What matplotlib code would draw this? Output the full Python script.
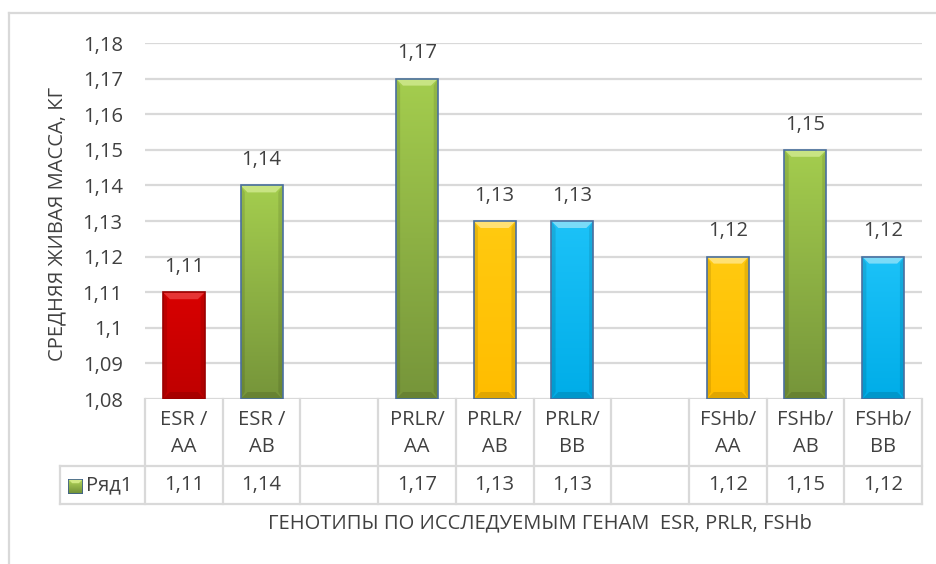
import numpy as np
import matplotlib
matplotlib.use("Agg")
import matplotlib.pyplot as plt
from matplotlib.patches import Rectangle, Polygon
from matplotlib.lines import Line2D
from matplotlib.colors import to_rgb
import matplotlib.transforms as mtransforms

plt.rcParams['font.family'] = ['Open Sans', 'DejaVu Sans']

# ---- data ----
categories = ["ESR /\nAA", "ESR /\nAB", "", "PRLR/\nAA", "PRLR/\nAB", "PRLR/\nBB",
              "", "FSHb/\nAA", "FSHb/\nAB", "FSHb/\nBB"]
values = [1.11, 1.14, None, 1.17, 1.13, 1.13, None, 1.12, 1.15, 1.12]
bar_kind = ["red", "green", None, "green", "yellow", "cyan", None, "yellow", "green", "cyan"]
series_name = "Ряд1"
y_ticks = [1.08, 1.09, 1.10, 1.11, 1.12, 1.13, 1.14, 1.15, 1.16, 1.17, 1.18]
y_title = "СРЕДНЯЯ ЖИВАЯ МАССА, КГ"
x_title = "ГЕНОТИПЫ ПО ИССЛЕДУЕМЫМ ГЕНАМ  ESR, PRLR, FSHb"

# fill styles: (top colour, bottom colour, bevel highlight, edge)
styles = {
    "red":    ("#d80000", "#bf0000", "#e83a3a", "#9a0000"),
    "green":  ("#a4cd4e", "#76953a", "#cde78a", "#4a6f9f"),
    "yellow": ("#ffca10", "#ffbd00", "#ffe480", "#4a6f9f"),
    "cyan":   ("#1cc2f8", "#00ade8", "#86def9", "#4a6f9f"),
}

TEXT = "#404040"
GRID = "#d9d9d9"
FS = 14.5

W, H = 936, 564
fig = plt.figure(figsize=(W / 100, H / 100), dpi=100)
fig.patch.set_facecolor("white")

ax_l, ax_r, ax_t, ax_b = 145, 922, 43, 399
ax = fig.add_axes([ax_l / W, 1 - ax_b / H, (ax_r - ax_l) / W, (ax_b - ax_t) / H])
ax.set_xlim(0, len(categories))
ax.set_ylim(y_ticks[0], y_ticks[-1])
ax.set_yticks(y_ticks)
ax.set_yticklabels([("%g" % round(t, 2)).replace(".", ",") for t in y_ticks],
                   fontsize=FS, color=TEXT)
ax.tick_params(axis="y", length=0, pad=16)
ax.set_xticks([])
for s in ax.spines.values():
    s.set_visible(False)
ax.grid(axis="y", color=GRID, linewidth=1.6, zorder=0)
ax.set_axisbelow(True)

# pixel scale of data units
px_x = (ax_r - ax_l) / len(categories)
px_y = (ax_b - ax_t) / (y_ticks[-1] - y_ticks[0])


def bevel_bar(axis, x0, y0, w, h, style, bev_px=7.0, zorder=3):
    top_c, bot_c, hi_c, edge_c = styles[style]
    # vertical gradient body
    grad = np.linspace(0, 1, 64)[:, None]
    c0, c1 = np.array(to_rgb(top_c)), np.array(to_rgb(bot_c))
    img = (c0[None, None, :] * (1 - grad[..., None]) + c1[None, None, :] * grad[..., None])
    im = axis.imshow(img, extent=(x0, x0 + w, y0, y0 + h), origin="upper",
                     aspect="auto", zorder=zorder, interpolation="bilinear")
    rect = Rectangle((x0, y0), w, h, facecolor="none", edgecolor="none")
    axis.add_patch(rect)
    im.set_clip_path(rect)
    bx = bev_px / px_x
    by = bev_px / px_y
    top = y0 + h
    # top bevel highlight
    axis.add_patch(Polygon([(x0, top), (x0 + w, top), (x0 + w - bx, top - by), (x0 + bx, top - by)],
                           closed=True, facecolor=hi_c, edgecolor="none", alpha=0.9, zorder=zorder + 0.1))
    # side shading
    axis.add_patch(Polygon([(x0, top), (x0 + bx * 0.6, top - by), (x0 + bx * 0.6, y0 + by), (x0, y0)],
                           closed=True, facecolor="black", edgecolor="none", alpha=0.10, zorder=zorder + 0.1))
    axis.add_patch(Polygon([(x0 + w, top), (x0 + w - bx * 0.6, top - by), (x0 + w - bx * 0.6, y0 + by), (x0 + w, y0)],
                           closed=True, facecolor="black", edgecolor="none", alpha=0.10, zorder=zorder + 0.1))
    # bottom bevel shadow
    axis.add_patch(Polygon([(x0, y0), (x0 + w, y0), (x0 + w - bx, y0 + by), (x0 + bx, y0 + by)],
                           closed=True, facecolor="black", edgecolor="none", alpha=0.12, zorder=zorder + 0.1))
    axis.add_patch(Rectangle((x0, y0), w, h, facecolor="none", edgecolor=edge_c,
                             linewidth=1.2, zorder=zorder + 0.2))


bar_w = 0.54
base = y_ticks[0]
for i, (v, kind) in enumerate(zip(values, bar_kind)):
    if v is None:
        continue
    xc = i + 0.5
    bevel_bar(ax, xc - bar_w / 2, base, bar_w, v - base, kind)
    ax.annotate(f"{v:.2f}".replace(".", ","), (xc, v), xytext=(0, 11),
                textcoords="offset points", ha="center", va="bottom",
                fontsize=FS, color=TEXT, zorder=5)

# ---- data table below the plot ----
row1_bot = 466   # header row: 399..466
row2_bot = 504   # value row: 466..504
leg_l = 60


def fy(py):
    return 1 - py / H


blend = mtransforms.blended_transform_factory(ax.transData, fig.transFigure)
figt = fig.transFigure

# horizontal rules
fig.add_artist(Line2D([leg_l / W, ax_r / W], [fy(row1_bot)] * 2, color=GRID, lw=1.6, transform=figt))
fig.add_artist(Line2D([leg_l / W, ax_r / W], [fy(row2_bot)] * 2, color=GRID, lw=1.6, transform=figt))
# vertical rules
for k in range(len(categories) + 1):
    ax.add_line(Line2D([k, k], [fy(ax_b), fy(row2_bot)], color=GRID, lw=1.6,
                       transform=blend, clip_on=False))
fig.add_artist(Line2D([leg_l / W] * 2, [fy(row1_bot), fy(row2_bot)], color=GRID, lw=1.6, transform=figt))

# cell texts
for i, (cat, v) in enumerate(zip(categories, values)):
    xc = i + 0.5
    if cat:
        ax.text(xc, fy((ax_b + row1_bot) / 2 + 1), cat, transform=blend, ha="center", va="center",
                fontsize=FS, color=TEXT, linespacing=1.5, clip_on=False)
    if v is not None:
        ax.text(xc, fy((row1_bot + row2_bot) / 2), f"{v:.2f}".replace(".", ","), transform=blend,
                ha="center", va="center", fontsize=FS, color=TEXT, clip_on=False)

# legend key inside the table
kax = fig.add_axes([68 / W, fy(494), 15 / W, 15 / H])
kax.set_xlim(0, 1)
kax.set_ylim(0, 1)
kax.axis("off")
kgrad = np.linspace(0, 1, 32)[:, None]
kc0, kc1 = np.array(to_rgb("#b8dc5c")), np.array(to_rgb("#6f8e36"))
kimg = kc0[None, None, :] * (1 - kgrad[..., None]) + kc1[None, None, :] * kgrad[..., None]
kax.imshow(kimg, extent=(0, 1, 0, 1), aspect="auto", origin="upper")
kax.add_patch(Polygon([(0, 1), (1, 1), (0.72, 0.72), (0.28, 0.72)], closed=True,
                      facecolor="#d7ee8a", edgecolor="none", alpha=0.9))
kax.add_patch(Rectangle((0, 0), 1, 1, facecolor="none", edgecolor="#3d5f8f", lw=1.2))
fig.text(86 / W, fy((row1_bot + row2_bot) / 2), series_name, ha="left", va="center",
         fontsize=FS, color=TEXT)

# axis titles
fig.text(57 / W, fy((ax_t + ax_b) / 2 + 3), y_title, rotation=90, ha="center", va="center",
         fontsize=FS, color=TEXT)
fig.text(540 / W, fy(523), x_title, ha="center", va="center", fontsize=FS, color=TEXT)

# outer chart frame
fig.add_artist(Line2D([9 / W, 9 / W], [fy(13), 0], color=GRID, lw=1.6, transform=figt))
fig.add_artist(Line2D([9 / W, 1], [fy(13), fy(13)], color=GRID, lw=1.6, transform=figt))

fig.savefig("out.png", dpi=100, facecolor="white")
